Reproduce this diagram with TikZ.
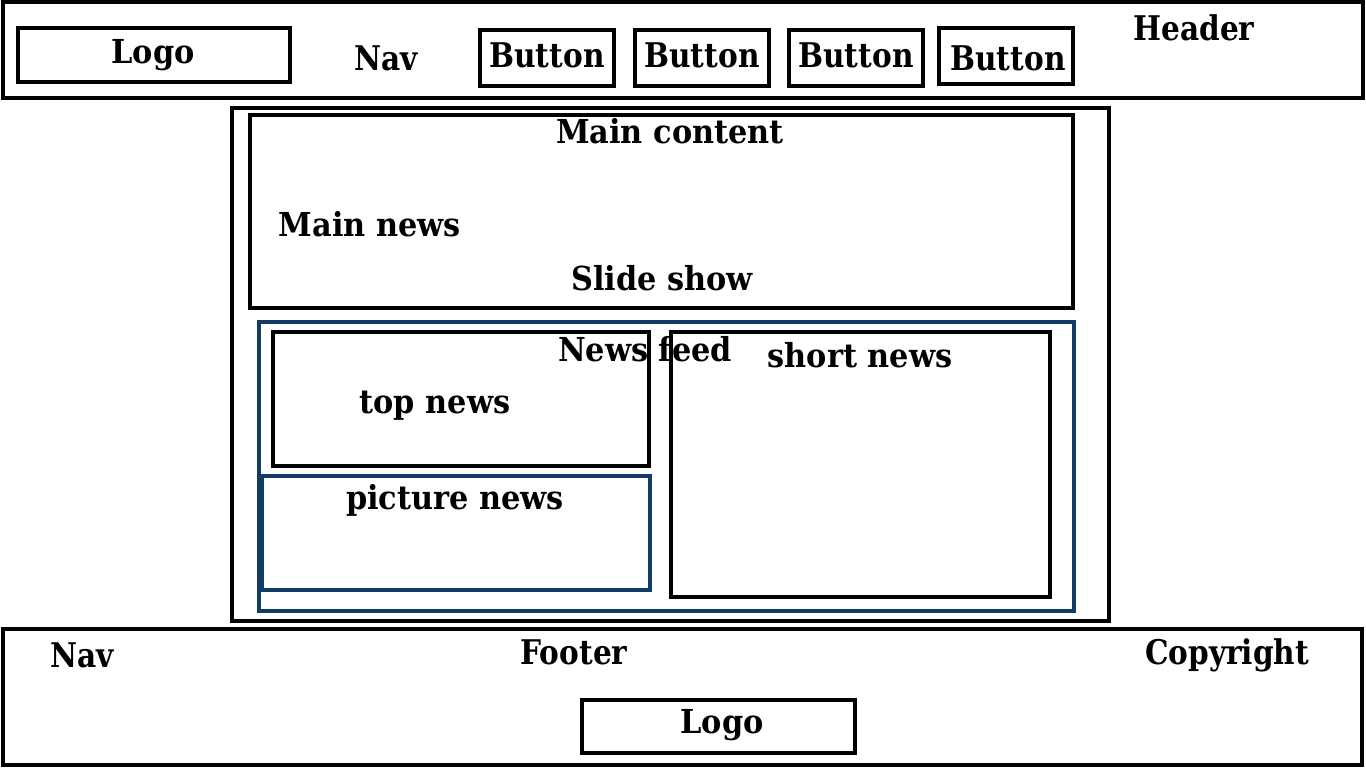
\documentclass[tikz,border=0pt]{standalone}
\usepackage{fontspec}
\setmainfont{DejaVu Serif}
\newfontfamily\slabfont{DejaVu Serif}[FakeStretch=0.92]
\newfontfamily\narrowfont{DejaVu Serif}[FakeStretch=0.87]
\definecolor{feedblue}{HTML}{143A66}
\tikzset{
  frame/.style={draw=black, line width=3.5pt},
  box/.style={draw=black, line width=4.5pt},
  bluebox/.style={draw=feedblue, line width=4.5pt},
  label/.style={font=\slabfont\bfseries\fontsize{33}{33}\selectfont, inner sep=0pt, anchor=center},
  narrow/.style={font=\narrowfont\bfseries\fontsize{34}{34}\selectfont, inner sep=0pt, anchor=center},
}
\begin{document}
\begin{tikzpicture}[x=1pt,y=-1pt]
\useasboundingbox[fill=white] (0,0) rectangle (1366,768);

% header bar
\draw[frame] (3,2) rectangle (1363,98);
\draw[box] (18,28) rectangle (290,82);
\node[label] (hlogo) at (153,55) {Logo};
\node[narrow] (hnav) at (386,58) {Nav};
\draw[box] (480,30) rectangle (614,86);
\draw[box] (635,30) rectangle (769,86);
\draw[box] (789,30) rectangle (923,86);
\draw[box] (939,28) rectangle (1073,84);
\node[narrow] (b1) at (547,55) {Button};
\node[narrow] (b2) at (702,55) {Button};
\node[narrow] (b3) at (856,55) {Button};
\node[narrow] (b4) at (1008,58) {Button};
\node[narrow] (hdr) at (1194,28) {Header};

% main area
\draw[box] (232,108) rectangle (1109,621);
\draw[box] (250,115) rectangle (1073,308);
\node[label] (mc) at (670,131) {Main content};
\node[label] (mn) at (370,224) {Main news};
\node[label] (ss) at (662,278) {Slide show};

% news feed
\draw[bluebox] (259,322) rectangle (1074,611);
\draw[box] (273,332) rectangle (649,466);
\draw[bluebox] (262,476) rectangle (650,590);
\draw[box] (671,332) rectangle (1050,597);
\node[label] (nf) at (645,349) {News feed};
\node[label] (tn) at (435,406) {top news};
\node[label] (pn) at (455,500) {picture news};
\node[label] (sn) at (860,355) {short news};

% footer bar
\draw[frame] (3,629) rectangle (1362,765);
\node[narrow] (fnav) at (82,655) {Nav};
\node[narrow] (ftr) at (574,652) {Footer};
\node[narrow] (cpy) at (1227,655) {Copyright};
\draw[box] (582,700) rectangle (855,753);
\node[label] (flogo) at (722,725) {Logo};
\end{tikzpicture}
\end{document}
